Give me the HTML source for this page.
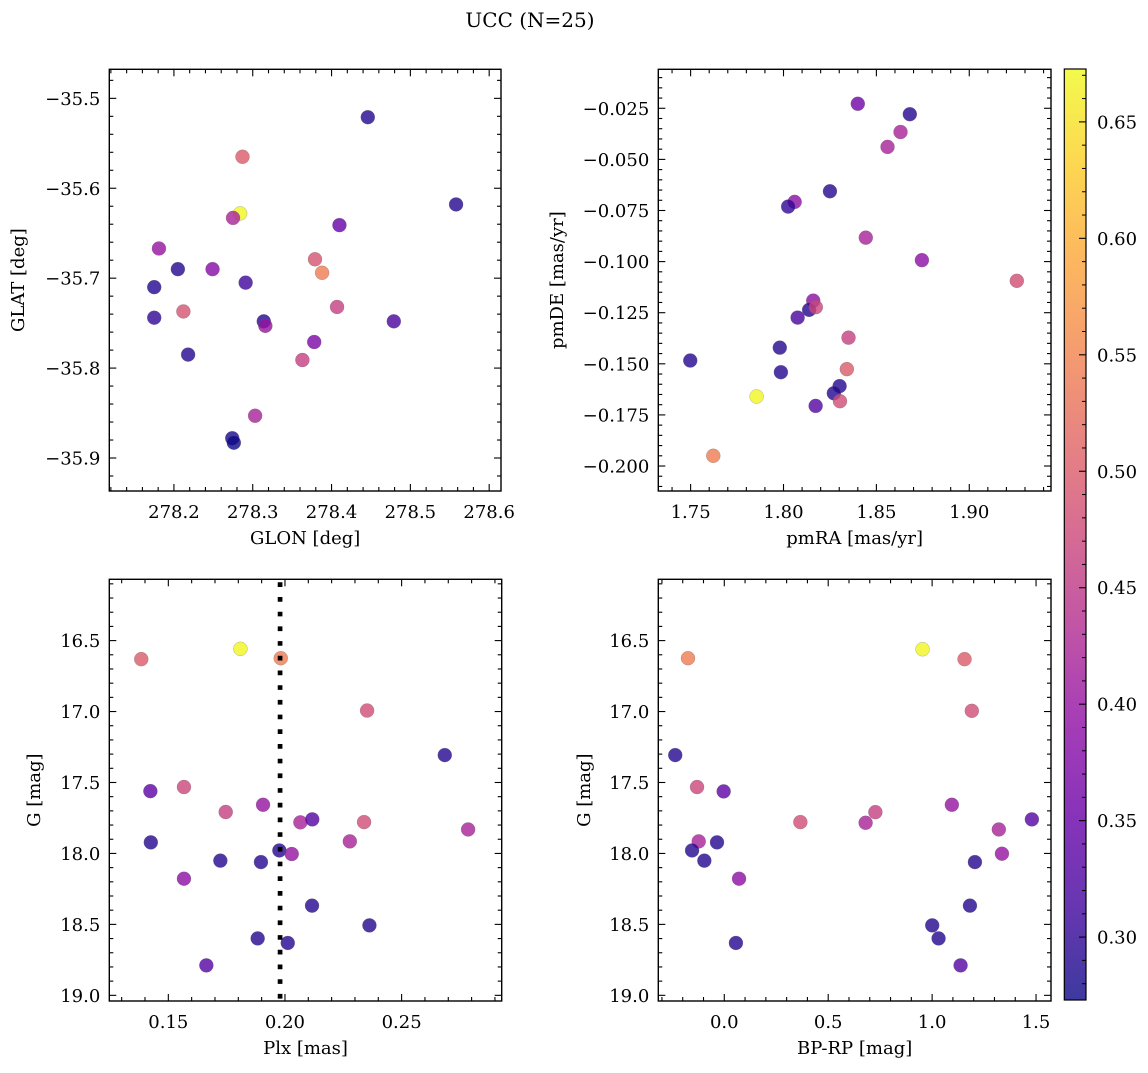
<!DOCTYPE html>
<html><head><meta charset="utf-8"><style>
html,body{margin:0;padding:0;background:#fff;}
svg text{font-family:"DejaVu Serif","Liberation Serif",serif;fill:#000;}
</style></head><body>
<svg id="fig" width="1148" height="1068" viewBox="0 0 1148 1068" xmlns="http://www.w3.org/2000/svg">
<rect width="1148" height="1068" fill="#fff"/>
<text x="530" y="27" font-size="20" text-anchor="middle">UCC (N=25)</text>
</svg>
<script>
// ---- data: panel 1 (GLON vs GLAT)
const glon = [278.446,278.287,278.558,278.284,278.275,278.410,278.181,278.379,278.205,278.249,278.388,278.291,278.175,278.407,278.212,278.175,278.314,278.316,278.479,278.378,278.363,278.218,278.303,278.274,278.276];
const glat = [-35.521,-35.565,-35.618,-35.628,-35.633,-35.641,-35.667,-35.679,-35.690,-35.690,-35.694,-35.705,-35.710,-35.732,-35.737,-35.744,-35.748,-35.753,-35.748,-35.771,-35.791,-35.785,-35.853,-35.878,-35.883];
const prob1 = [0.29,0.50,0.29,0.67,0.42,0.35,0.40,0.49,0.29,0.38,0.54,0.31,0.29,0.46,0.49,0.30,0.29,0.40,0.32,0.37,0.46,0.29,0.42,0.28,0.27];
// ---- panel 2 (pmRA vs pmDE)
const pmra = [1.840,1.868,1.863,1.856,1.825,1.806,1.8025,1.8443,1.8745,1.9256,1.816,1.8138,1.8174,1.8076,1.835,1.798,1.7498,1.7986,1.8341,1.8302,1.8271,1.8304,1.7855,1.8173,1.7622];
const pmde = [-0.0228,-0.0279,-0.0366,-0.0439,-0.0656,-0.0708,-0.0731,-0.0883,-0.0993,-0.1094,-0.1191,-0.1236,-0.1223,-0.1274,-0.1372,-0.1421,-0.1484,-0.1541,-0.1526,-0.1609,-0.1644,-0.1683,-0.166,-0.1706,-0.195];
const prob2 = [0.36,0.29,0.42,0.42,0.29,0.39,0.30,0.42,0.39,0.48,0.39,0.29,0.47,0.32,0.46,0.29,0.29,0.29,0.50,0.29,0.29,0.48,0.67,0.33,0.54];
// ---- panel 3 (Plx vs G)
const plx = [0.1384,0.1809,0.1982,0.2352,0.2685,0.1423,0.1567,0.1746,0.1906,0.2066,0.2117,0.2339,0.2785,0.2278,0.1425,0.1976,0.2029,0.1723,0.1897,0.1567,0.2116,0.2362,0.1883,0.2012,0.1663];
const gmag3 = [16.631,16.558,16.624,16.993,17.307,17.561,17.532,17.708,17.657,17.781,17.76,17.779,17.831,17.915,17.922,17.979,18.004,18.051,18.061,18.178,18.368,18.507,18.599,18.631,18.789];
const prob3 = [0.50,0.67,0.54,0.48,0.29,0.34,0.47,0.46,0.40,0.42,0.33,0.48,0.42,0.42,0.29,0.29,0.40,0.29,0.29,0.39,0.29,0.29,0.29,0.29,0.33];
const plxLine = [0.1979];
// ---- panel 4 (BP-RP vs G)
const bprp = [-0.1746,0.954,1.156,1.191,-0.236,-0.131,-0.003,0.366,0.680,0.727,1.095,1.321,1.480,-0.123,-0.155,-0.035,-0.096,0.071,1.336,1.206,1.182,1.0005,1.031,0.056,1.137];
const gmag4 = [16.624,16.561,16.631,16.995,17.307,17.532,17.563,17.779,17.784,17.709,17.657,17.831,17.76,17.915,17.979,17.922,18.051,18.178,18.002,18.061,18.368,18.507,18.599,18.631,18.789];
const prob4 = [0.54,0.67,0.50,0.48,0.29,0.47,0.34,0.48,0.42,0.46,0.40,0.42,0.33,0.42,0.29,0.29,0.29,0.39,0.40,0.29,0.29,0.29,0.29,0.29,0.33];
// ---- ticks
const p1xTicks = [278.2,278.3,278.4,278.5,278.6];
const p1xLabels = ["278.2","278.3","278.4","278.5","278.6"];
const p1yTicks = [-35.5,-35.6,-35.7,-35.8,-35.9];
const p1yLabels = ["−35.5","−35.6","−35.7","−35.8","−35.9"];
const p2xTicks = [1.75,1.80,1.85,1.90];
const p2xLabels = ["1.75","1.80","1.85","1.90"];
const p2yTicks = [-0.025,-0.05,-0.075,-0.1,-0.125,-0.15,-0.175,-0.2];
const p2yLabels = ["−0.025","−0.050","−0.075","−0.100","−0.125","−0.150","−0.175","−0.200"];
const p3xTicks = [0.15,0.20,0.25];
const p3xLabels = ["0.15","0.20","0.25"];
const gTicks = [16.5,17.0,17.5,18.0,18.5,19.0];
const gLabels = ["16.5","17.0","17.5","18.0","18.5","19.0"];
const p4xTicks = [0.0,0.5,1.0,1.5];
const p4xLabels = ["0.0","0.5","1.0","1.5"];
const cbTicks = [0.30,0.35,0.40,0.45,0.50,0.55,0.60,0.65];
const cbLabels = ["0.30","0.35","0.40","0.45","0.50","0.55","0.60","0.65"];
const cMin = 0.273, cMax = 0.6727;

const NS = "http://www.w3.org/2000/svg";
const svg = document.getElementById('fig');
const stops = [[0,"#0d0887"],[0.1,"#41049d"],[0.2,"#6a00a8"],[0.3,"#8f0da4"],[0.4,"#b12a90"],[0.5,"#cc4778"],[0.6,"#e16462"],[0.7,"#f2844b"],[0.8,"#fca636"],[0.9,"#fcce25"],[1,"#f0f921"]];
function hex(h){return [1,3,5].map(i=>parseInt(h.substr(i,2),16));}
function plasma(t){
  t=Math.max(0,Math.min(1,t));
  for(let i=0;i<stops.length-1;i++){
    if(t<=stops[i+1][0]){
      const f=(t-stops[i][0])/(stops[i+1][0]-stops[i][0]);
      const a=hex(stops[i][1]),b=hex(stops[i+1][1]);
      return 'rgb('+a.map((v,k)=>Math.round(v+(b[k]-v)*f)).join(',')+')';
    }
  }
  return stops[stops.length-1][1];
}
function mk(tag,attrs,parent){
  const e=document.createElementNS(NS,tag);
  for(const k in attrs)e.setAttribute(k,attrs[k]);
  (parent||svg).appendChild(e);return e;
}
function minors(min,max,step,majors){
  const out=[];
  for(let k=Math.ceil(min/step-1e-9);k*step<=max+1e-9;k++){
    const v=k*step;
    if(!majors.some(m=>Math.abs(m-v)<step*0.01))out.push(v);
  }
  return out;
}
function panel(o){
  const g=mk('g',{});
  
  
  const sx=v=>o.x0+(v-o.xmin)/(o.xmax-o.xmin)*(o.x1-o.x0);
  const sy=o.inv ? (v=>o.y0+(v-o.ymin)/(o.ymax-o.ymin)*(o.y1-o.y0))
                 : (v=>o.y1-(v-o.ymin)/(o.ymax-o.ymin)*(o.y1-o.y0));
  // points
  for(let i=0;i<o.xs.length;i++){
    const c=mk('circle',{cx:sx(o.xs[i]),cy:sy(o.ys[i]),r:7,fill:plasma((o.cs[i]-cMin)/(cMax-cMin)),'fill-opacity':0.8,stroke:'#666','stroke-width':0.4,'stroke-opacity':0.6},g);
    
    
  }
  // vertical line (drawn above points)
  if(o.vline){
    const ln=mk('line',{x1:sx(o.vline[0]),x2:sx(o.vline[0]),y1:o.y0+3,y2:o.y1,stroke:'#000','stroke-width':4.7,'stroke-dasharray':'4.7 10'},g);
    
    
  }
  // frame
  const fr=mk('rect',{x:o.x0,y:o.y0,width:o.x1-o.x0,height:o.y1-o.y0,fill:'none',stroke:'#000','stroke-width':1.4},g);
  
  
  const tk=(x1,y1,x2,y2)=>mk('line',{x1,y1,x2,y2,stroke:'#000','stroke-width':1.1},g);
  o.xTicks.forEach((v,i)=>{
    const x=sx(v);tk(x,o.y1,x,o.y1-7);tk(x,o.y0,x,o.y0+7);
    const t=mk('text',{x:x,y:o.y1+27,'font-size':18,'text-anchor':'middle'},g);
    t.textContent=o.xLabels[i];
    
    
  });
  minors(o.xmin,o.xmax,o.xMinor,o.xTicks).forEach(v=>{const x=sx(v);tk(x,o.y1,x,o.y1-4);tk(x,o.y0,x,o.y0+4);});
  o.yTicks.forEach((v,i)=>{
    const y=sy(v);tk(o.x0,y,o.x0+7,y);tk(o.x1,y,o.x1-7,y);
    const t=mk('text',{x:o.x0-9,y:y+6.5,'font-size':18,'text-anchor':'end'},g);
    t.textContent=o.yLabels[i];
    
    
  });
  minors(Math.min(o.ymin,o.ymax),Math.max(o.ymin,o.ymax),o.yMinor,o.yTicks).forEach(v=>{const y=sy(v);tk(o.x0,y,o.x0+4,y);tk(o.x1,y,o.x1-4,y);});
  const xl=mk('text',{x:(o.x0+o.x1)/2,y:o.y1+53,'font-size':18,'text-anchor':'middle'},g);
  xl.textContent=o.xlabel;
  
  
  const yc=(o.y0+o.y1)/2;
  const yl=mk('text',{x:o.ylx,y:yc,'font-size':18,'text-anchor':'middle',transform:'rotate(-90 '+o.ylx+' '+yc+')'},g);
  yl.textContent=o.ylabel;
  
  
}
panel({name:'glon-glat-panel',x0:109.3,x1:501,y0:69.3,y1:491,xmin:278.118,xmax:278.615,ymin:-35.9367,ymax:-35.4677,inv:false,
  xs:glon,ys:glat,cs:prob1,xTicks:p1xTicks,xLabels:p1xLabels,xMinor:0.02,yTicks:p1yTicks,yLabels:p1yLabels,yMinor:0.02,
  xlabel:'GLON [deg]',ylabel:'GLAT [deg]',ylx:24});
panel({name:'pm-panel',x0:658.3,x1:1051,y0:69.3,y1:491,xmin:1.7326,xmax:1.944,ymin:-0.21222,ymax:-0.00593,inv:false,
  xs:pmra,ys:pmde,cs:prob2,xTicks:p2xTicks,xLabels:p2xLabels,xMinor:0.01,yTicks:p2yTicks,yLabels:p2yLabels,yMinor:0.005,
  xlabel:'pmRA [mas/yr]',ylabel:'pmDE [mas/yr]',ylx:563});
panel({name:'plx-g-panel',x0:109.3,x1:501.7,y0:579.3,y1:1001,xmin:0.1247,xmax:0.2929,ymin:16.068,ymax:19.04,inv:true,
  xs:plx,ys:gmag3,cs:prob3,xTicks:p3xTicks,xLabels:p3xLabels,xMinor:0.01,yTicks:gTicks,yLabels:gLabels,yMinor:0.1,
  xlabel:'Plx [mas]',ylabel:'G [mag]',ylx:40,vline:plxLine});
panel({name:'cmd-panel',x0:658.3,x1:1051,y0:579.3,y1:1001,xmin:-0.3175,xmax:1.572,ymin:16.068,ymax:19.04,inv:true,
  xs:bprp,ys:gmag4,cs:prob4,xTicks:p4xTicks,xLabels:p4xLabels,xMinor:0.1,yTicks:gTicks,yLabels:gLabels,yMinor:0.1,
  xlabel:'BP-RP [mag]',ylabel:'G [mag]',ylx:590});
// colorbar
(function(){
  const x0=1064.3,x1=1086,y0=69,y1=1000;
  const g=mk('g',{});
  
  
  const defs=mk('defs',{},g);
  const lg=mk('linearGradient',{id:'cbg',x1:0,y1:1,x2:0,y2:0},defs);
  for(let i=0;i<=40;i++)mk('stop',{offset:i/40,'stop-color':plasma(i/40)},lg);
  mk('rect',{x:x0,y:y0,width:x1-x0,height:y1-y0,fill:'url(#cbg)','fill-opacity':0.8},g);
  mk('rect',{x:x0,y:y0,width:x1-x0,height:y1-y0,fill:'none',stroke:'#000','stroke-width':1.2},g);
  const sy=v=>y1-(v-cMin)/(cMax-cMin)*(y1-y0);
  cbTicks.forEach((v,i)=>{
    const y=sy(v);
    mk('line',{x1:x1,x2:x1-7,y1:y,y2:y,stroke:'#000','stroke-width':1.1},g);
    const t=mk('text',{x:x1+11,y:y+6.5,'font-size':18},g);
    t.textContent=cbLabels[i];
    
    
  });
  minors(cMin,cMax,0.01,cbTicks).forEach(v=>{const y=sy(v);mk('line',{x1:x1,x2:x1-4,y1:y,y2:y,stroke:'#000','stroke-width':1},g);});
})();
</script>
</body></html>
